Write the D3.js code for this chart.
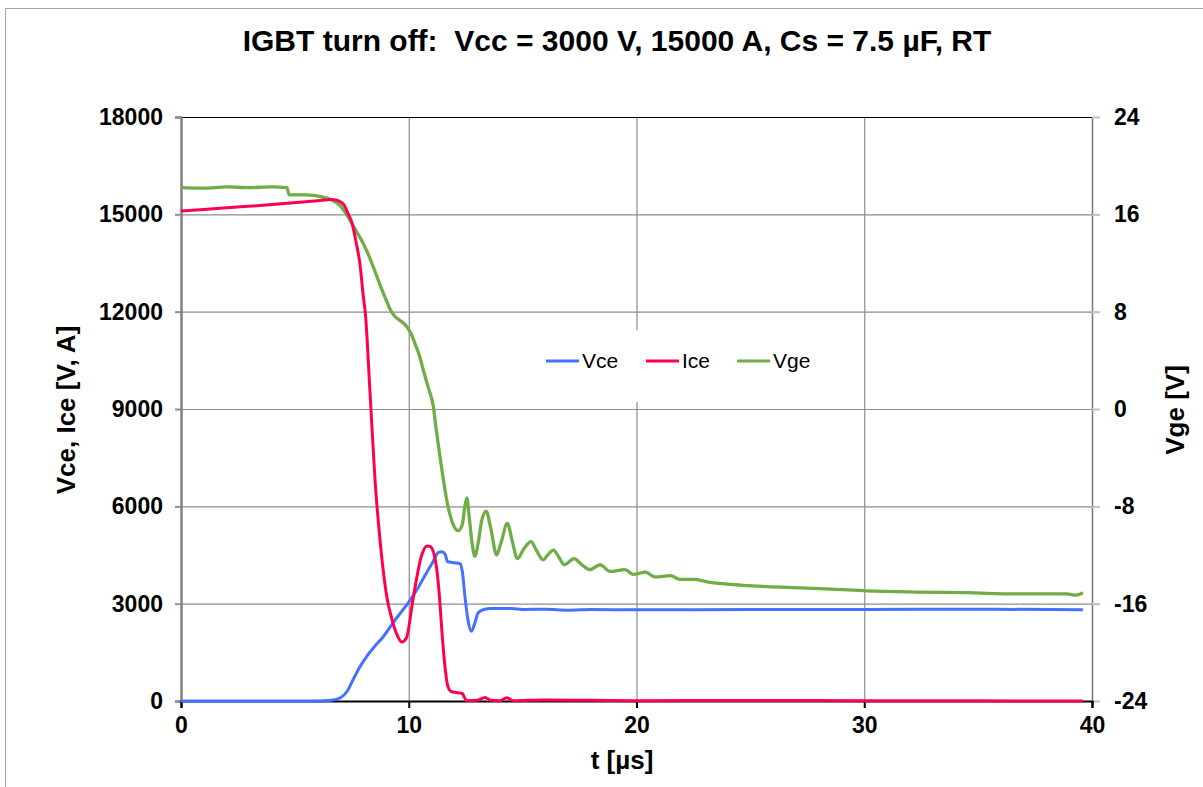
<!DOCTYPE html>
<html>
<head>
<meta charset="utf-8">
<script src="https://cdn.jsdelivr.net/npm/d3@7"></script>
<style>
  body { margin: 0; background: #fff; }
  text { font-family: "Liberation Sans", Arial, sans-serif; }
</style>
</head>
<body>
<svg class="chart"></svg>
<script>

var width = 1203,
    height = 787;

// plot area in pixels
var plotLeft = 181, plotRight = 1092, plotTop = 117, plotBottom = 701;

var xTicks = [0, 10, 20, 30, 40];
var yTicks = [0, 3000, 6000, 9000, 12000, 15000, 18000];
var y2Ticks = [-24, -16, -8, 0, 8, 16, 24];

// Ice [A]
var iceT = [0, 2, 4, 6, 6.6, 6.9, 7.15, 7.35, 7.5, 7.7, 7.86, 8.0, 8.1, 8.3, 8.52, 8.74, 9.04, 9.25, 9.45, 9.7, 9.9, 10.2, 10.57, 10.8, 10.95, 11.2, 11.35, 11.45, 11.6, 11.7, 11.85, 12.1, 12.35, 12.45, 12.55, 13.0, 13.35, 13.6, 14.0, 14.3, 14.6, 16, 18, 20, 25, 30, 35, 39.6];
var iceV = [15100, 15200, 15300, 15420, 15460, 15420, 15300, 15000, 14750, 14100, 13450, 12500, 11900, 9500, 6800, 4950, 3200, 2550, 2100, 1820, 1950, 3200, 4500, 4780, 4760, 4200, 3200, 2200, 1000, 500, 300, 260, 230, 100, 10, 20, 110, 20, 10, 100, 10, 30, 20, 10, 15, 10, 5, 0];

// Vce [V]
var vceT = [0, 6, 6.6, 7.0, 7.3, 7.55, 7.85, 8.15, 8.5, 8.88, 9.25, 9.62, 10.0, 10.35, 10.7, 11.07, 11.3, 11.45, 11.6, 11.7, 12.0, 12.25, 12.35, 12.47, 12.6, 12.75, 12.9, 13.05, 13.3, 13.6, 14.5, 15, 16, 17, 18, 20, 25, 30, 35, 39.6];
var vceV = [0, 0, 20, 100, 300, 650, 1050, 1370, 1680, 1980, 2350, 2700, 3050, 3420, 3850, 4300, 4580, 4600, 4520, 4300, 4260, 4230, 4000, 3200, 2500, 2150, 2400, 2720, 2820, 2850, 2850, 2820, 2830, 2800, 2820, 2810, 2820, 2820, 2830, 2810];

// Vge [V], right axis
var vgeT = [0, 1, 2, 3, 4, 4.65, 4.75, 5.5, 6.15, 6.6, 7.0, 7.3, 7.55, 7.75, 8.0, 8.2, 8.5, 8.78, 9.0, 9.18, 9.4, 9.6, 9.9, 10.1, 10.27, 10.45, 10.64, 10.85, 11.08, 11.2, 11.37, 11.52, 11.67, 11.8, 11.95, 12.18, 12.35, 12.45, 12.55, 12.65, 12.78, 12.9, 13.05, 13.2, 13.4, 13.6, 13.86, 14.05, 14.33, 14.55, 14.77, 15.05, 15.37, 15.6, 15.9, 16.1, 16.35, 16.6, 16.82, 17.26, 17.6, 17.96, 18.4, 18.84, 19.5, 19.85, 20.4, 20.8, 21.5, 21.9, 22.5, 23.1, 24, 24.7, 25.7, 27.2, 28.6, 30.1, 32.3, 34.5, 36.7, 38.9, 39.3, 39.6];
var vgeV = [18.2, 18.15, 18.25, 18.2, 18.25, 18.2, 17.6, 17.6, 17.45, 17.2, 16.7, 15.9, 15.1, 14.45, 13.6, 12.8, 11.4, 10.0, 9.0, 8.2, 7.6, 7.3, 6.8, 6.2, 5.4, 4.5, 3.2, 1.8, 0.2, -1.6, -3.9, -5.8, -7.5, -8.6, -9.5, -10.0, -9.5, -8.2, -7.3, -8.8, -11.0, -12.1, -11.0, -9.2, -8.4, -9.8, -12.0, -11.0, -9.4, -10.9, -12.3, -11.5, -10.9, -11.6, -12.4, -12.0, -11.6, -12.2, -12.8, -12.3, -12.8, -13.2, -12.8, -13.35, -13.2, -13.6, -13.4, -13.8, -13.7, -14.0, -14.0, -14.2, -14.4, -14.5, -14.6, -14.7, -14.8, -14.95, -15.05, -15.1, -15.2, -15.2, -15.3, -15.1];

var seriesNames = ["Vce", "Ice", "Vge"];
var seriesColors = ["#4472ff", "#ff0050", "#70ad47"];

var x = d3.scaleLinear().domain([0, 40]).range([plotLeft, plotRight]);
var y = d3.scaleLinear().domain([0, 18000]).range([plotBottom, plotTop]);
var y2 = d3.scaleLinear().domain([-24, 24]).range([plotBottom, plotTop]);

var plain = function(d) { return String(d); };  // hyphen minus like the original

var chart = d3.select(".chart")
    .attr("width", width)
    .attr("height", height);

// outer chart frame
chart.append("rect")
    .attr("x", 5.5).attr("y", 8.5)
    .attr("width", 1210).attr("height", 800)
    .attr("fill", "none")
    .attr("stroke", "#a6a6a6");

// gridlines
chart.append("g").selectAll("line")
    .data(yTicks.slice(1, -1))
  .enter().append("line")
    .attr("x1", plotLeft).attr("x2", plotRight)
    .attr("y1", function(d) { return y(d) + 0.5; })
    .attr("y2", function(d) { return y(d) + 0.5; })
    .attr("stroke", "#8c8c8c").attr("stroke-width", 1.2);

chart.append("g").selectAll("line")
    .data(xTicks.slice(1, -1))
  .enter().append("line")
    .attr("y1", plotTop).attr("y2", plotBottom)
    .attr("x1", function(d) { return x(d) + 0.5; })
    .attr("x2", function(d) { return x(d) + 0.5; })
    .attr("stroke", "#8c8c8c").attr("stroke-width", 1.2);

// legend box (covers gridline)
chart.append("rect")
    .attr("x", 532).attr("y", 330)
    .attr("width", 300).attr("height", 72)
    .attr("fill", "#fff");

// frame
chart.append("line").attr("x1", plotLeft).attr("x2", plotRight).attr("y1", plotTop + 0.5).attr("y2", plotTop + 0.5)
    .attr("stroke", "#000").attr("stroke-width", 1.2);
chart.append("line").attr("x1", plotRight + 0.5).attr("x2", plotRight + 0.5).attr("y1", plotTop).attr("y2", plotBottom)
    .attr("stroke", "#777").attr("stroke-width", 1.5);

// left axis
var yAxis = chart.append("g")
    .attr("transform", "translate(" + plotLeft + ",0)")
    .call(d3.axisLeft(y).tickValues(yTicks).tickFormat(plain).tickSize(6).tickPadding(12));
yAxis.select(".domain").attr("stroke", "#808080").attr("stroke-width", 2.5);
yAxis.selectAll(".tick line").attr("stroke", "#909090").attr("stroke-width", 2);

// right axis
var y2Axis = chart.append("g")
    .attr("transform", "translate(" + plotRight + ",0)")
    .call(d3.axisRight(y2).tickValues(y2Ticks).tickFormat(plain).tickSize(8).tickPadding(14));
y2Axis.select(".domain").remove();
y2Axis.selectAll(".tick line").attr("stroke", "#c0c0c0").attr("stroke-width", 2);

// bottom axis
var xAxis = chart.append("g")
    .attr("transform", "translate(0," + plotBottom + ")")
    .call(d3.axisBottom(x).tickValues(xTicks).tickFormat(plain).tickSize(7).tickPadding(9));
xAxis.select(".domain").attr("stroke", "#000").attr("stroke-width", 2);
xAxis.selectAll(".tick line").attr("stroke", "#000").attr("stroke-width", 2);

chart.selectAll(".tick text")
    .attr("font-family", "Liberation Sans, Arial, sans-serif")
    .attr("font-size", 23)
    .attr("font-weight", "bold")
    .attr("fill", "#000");

// series
var line = d3.line()
    .x(function(d) { return x(d[0]); })
    .y(function(d) { return d[1]; })
    .curve(d3.curveMonotoneX);

function pts(ts, vs, sc) {
    return ts.map(function(t, i) { return [t, sc(vs[i])]; });
}

var seriesData = [pts(vceT, vceV, y), pts(iceT, iceV, y), pts(vgeT, vgeV, y2)];
var drawOrder = [2, 0, 1];

drawOrder.forEach(function(k) {
    chart.append("path")
        .attr("d", line(seriesData[k]))
        .attr("fill", "none")
        .attr("stroke", seriesColors[k])
        .attr("stroke-width", k == 2 ? 3.3 : 3)
        .attr("stroke-linejoin", "round");
});

// legend
var legX = [546, 646, 737];
var leg = chart.append("g").selectAll("g")
    .data(seriesNames)
  .enter().append("g")
    .attr("transform", function(d, i) { return "translate(" + legX[i] + ",361)"; });
leg.append("line")
    .attr("x1", 0).attr("x2", 33)
    .attr("stroke", function(d, i) { return seriesColors[i]; })
    .attr("stroke-width", 3);
leg.append("text")
    .attr("x", 36).attr("dy", "0.35em")
    .attr("font-size", 21)
    .text(function(d) { return d; });

// titles
chart.append("text")
    .attr("x", 617).attr("y", 51)
    .attr("text-anchor", "middle")
    .attr("font-size", 30).attr("font-weight", "bold")
    .style("white-space", "pre")
    .text("IGBT turn off:  Vcc = 3000 V, 15000 A, Cs = 7.5 µF, RT");

chart.append("text")
    .attr("x", 622).attr("y", 769)
    .attr("text-anchor", "middle")
    .attr("font-size", 26).attr("font-weight", "bold")
    .text("t [µs]");

chart.append("text")
    .attr("transform", "translate(75,410) rotate(-90)")
    .attr("text-anchor", "middle")
    .attr("font-size", 26).attr("font-weight", "bold")
    .text("Vce, Ice [V, A]");

chart.append("text")
    .attr("transform", "translate(1184,410) rotate(-90)")
    .attr("text-anchor", "middle")
    .attr("font-size", 26).attr("font-weight", "bold")
    .text("Vge [V]");

</script>
</body>
</html>
